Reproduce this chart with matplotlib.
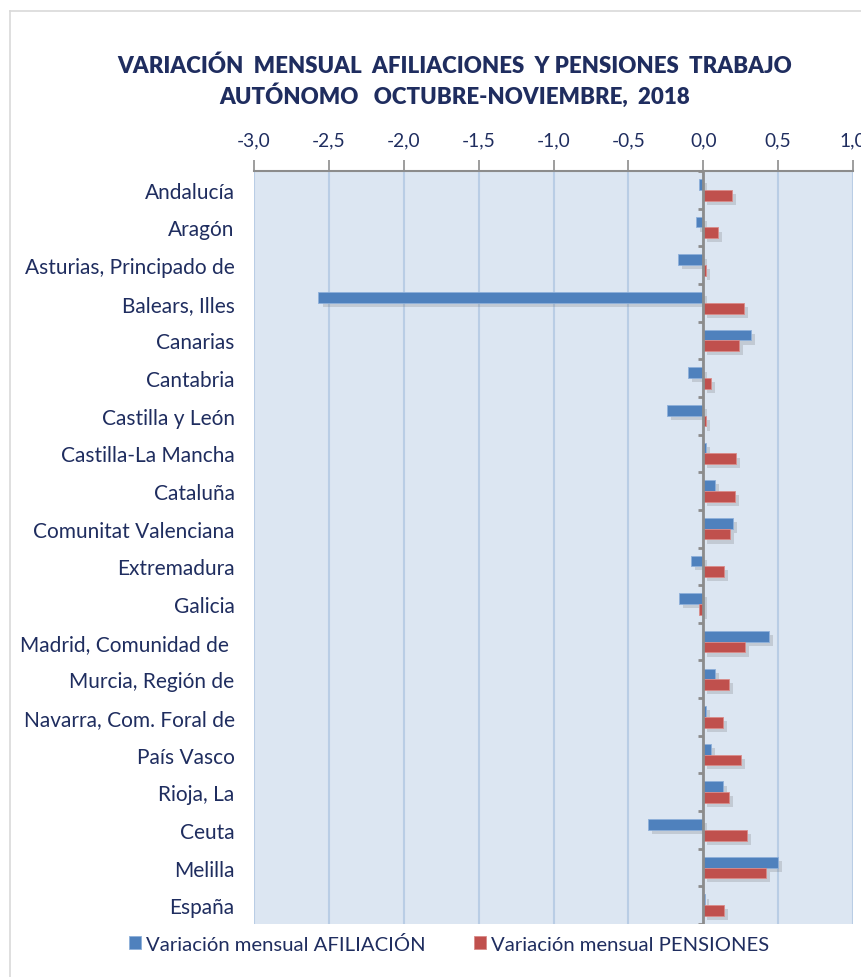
import matplotlib
matplotlib.use("Agg")
import matplotlib.pyplot as plt
import matplotlib.patheffects as pe
import numpy as np
from matplotlib.ticker import FixedLocator, FuncFormatter

categories = ["Andalucía", "Aragón", "Asturias, Principado de", "Balears, Illes", "Canarias",
              "Cantabria", "Castilla y León", "Castilla-La Mancha", "Cataluña",
              "Comunitat Valenciana", "Extremadura", "Galicia", "Madrid, Comunidad de ",
              "Murcia, Región de", "Navarra, Com. Foral de", "País Vasco", "Rioja, La",
              "Ceuta", "Melilla", "España"]
afiliacion = [-0.03, -0.05, -0.17, -2.57, 0.32, -0.10, -0.24, 0.02, 0.08, 0.20,
              -0.08, -0.16, 0.44, 0.08, 0.02, 0.05, 0.13, -0.37, 0.50, 0.01]
pensiones = [0.19, 0.10, 0.02, 0.27, 0.24, 0.05, 0.02, 0.22, 0.21, 0.18,
             0.14, -0.03, 0.28, 0.17, 0.13, 0.25, 0.17, 0.29, 0.42, 0.14]
xticks = [-3.0, -2.5, -2.0, -1.5, -1.0, -0.5, 0.0, 0.5, 1.0]
series_names = ["Variación mensual AFILIACIÓN", "Variación mensual PENSIONES"]
title = "VARIACIÓN  MENSUAL  AFILIACIONES  Y PENSIONES  TRABAJO\nAUTÓNOMO   OCTUBRE-NOVIEMBRE,  2018"

BLUE = "#4F81BD"
RED = "#C0504D"
NAVY = "#1F2D5F"

plt.rcParams['font.family'] = ['Lato', 'DejaVu Sans']

fig = plt.figure(figsize=(8.61, 9.78), dpi=100)
W, H = 861, 978
ax = fig.add_axes([254 / W, 1 - 925 / H, (853 - 254) / W, (925 - 172) / H])
ax.set_facecolor("#DCE6F2")

y = np.arange(len(categories))
bh = 0.285
shadow = [pe.SimplePatchShadow(offset=(3, -3), shadow_rgbFace="#6A6A6A", alpha=0.22), pe.Normal()]
b1 = ax.barh(y - bh / 2, afiliacion, height=bh, color=BLUE, edgecolor="#8EB0DA", linewidth=0.6,
             label=series_names[0], zorder=3)
b2 = ax.barh(y + bh / 2, pensiones, height=bh, color=RED, edgecolor="#D98B89", linewidth=0.6,
             label=series_names[1], zorder=3)
for b in list(b1) + list(b2):
    b.set_path_effects(shadow)

ax.set_xlim(-3.0, 1.0)
ax.set_ylim(len(categories) - 0.5, -0.5)
ax.xaxis.set_major_locator(FixedLocator(xticks))
ax.xaxis.set_major_formatter(FuncFormatter(lambda v, p: f"{v:.1f}".replace(".", ",")))
ax.xaxis.tick_top()
ax.tick_params(axis="x", direction="out", length=8, width=1.2, color="#8C8C8C",
               labelsize=13.8, labelcolor=NAVY, pad=8)
ax.grid(axis="x", color="#B9CDE5", linewidth=1.5, zorder=0)
ax.set_axisbelow(True)

ax.set_yticks(y)
ax.set_yticklabels(categories)
ax.tick_params(axis="y", length=0, labelsize=15, labelcolor=NAVY, pad=14)

for s in ["left", "right", "bottom"]:
    ax.spines[s].set_visible(False)
ax.spines["top"].set_color("#8C8C8C")
ax.spines["top"].set_linewidth(1.5)

# category axis at zero
ax.axvline(0, color="#8C8C8C", linewidth=2, zorder=4)
for k in range(len(categories) + 1):
    ax.plot([-0.035, 0], [k - 0.5, k - 0.5], color="#8C8C8C", linewidth=2, zorder=4,
            solid_capstyle="butt")

fig.text(455 / W, 1 - 82 / H, title, ha="center", va="center", fontsize=16,
         fontweight="heavy", color=NAVY, linespacing=1.3)

leg = fig.legend(handles=[b1, b2], labels=series_names, loc="center",
                 bbox_to_anchor=(449 / W, 1 - 945 / H), ncol=2, frameon=False,
                 fontsize=14.6, handlelength=0.6, handleheight=0.6, handletextpad=0.25,
                 columnspacing=2.4)
for t in leg.get_texts():
    t.set_color(NAVY)
for h in leg.legend_handles:
    h.set_path_effects([pe.Normal()])

# outer chart frame
fig.add_artist(plt.Line2D([10 / W, 10 / W], [1 - 12 / H, 0], transform=fig.transFigure,
                          color="#D9D9D9", linewidth=1.2))
fig.add_artist(plt.Line2D([10 / W, 1], [1 - 12 / H, 1 - 12 / H], transform=fig.transFigure,
                          color="#D9D9D9", linewidth=1.2))

fig.savefig("out.png", dpi=100)
